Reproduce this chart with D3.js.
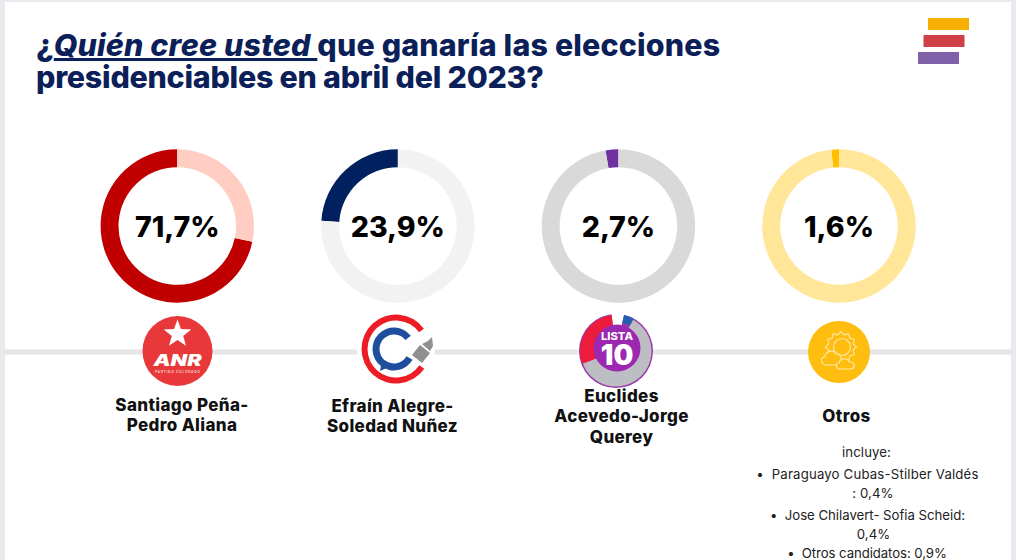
<!DOCTYPE html>
<html>
<head>
<meta charset="utf-8">
<script src="https://cdn.jsdelivr.net/npm/d3@7"></script>
<style>
  html, body { margin: 0; padding: 0; background: #fff; }
  svg { display: block; }
  text { font-family: Inter, "Noto Sans", sans-serif; }
</style>
</head>
<body>
<div id="chart"></div>
<script>
// datos
const candidatos = ['Santiago Peña-Pedro Aliana', 'Efraín Alegre-Soledad Nuñez', 'Euclides Acevedo-Jorge Querey', 'Otros'];
const valores = [71.7, 23.9, 2.7, 1.6];
const etiquetas = ['71,7%', '23,9%', '2,7%', '1,6%'];
const lineasNombre = [['Santiago Peña-', 'Pedro Aliana'], ['Efraín Alegre-', 'Soledad Nuñez'], ['Euclides', 'Acevedo-Jorge', 'Querey'], ['Otros']];
const coloresValor = ['#c00000', '#002060', '#7030a0', '#ffc000'];
const coloresResto = ['#ffcdc2', '#f2f2f2', '#d9d9d9', '#ffe699'];
const otrosLineas = ['incluye:', '•\u00a0\u00a0Paraguayo Cubas-Stilber Valdés', ': 0,4%', '•\u00a0\u00a0Jose Chilavert- Sofia Scheid:', '0,4%', '•\u00a0\u00a0Otros candidatos: 0,9%'];

const width = 1016, height = 560;
const svg = d3.select('#chart').append('svg').attr('width', width).attr('height', height);

// marco gris
svg.append('rect').attr('width', width).attr('height', height).attr('fill', '#e9e9ee');
svg.append('rect').attr('x', 5).attr('y', 2).attr('width', 1006).attr('height', height).attr('fill', '#fff');

// titulo
const navy = '#0b2058';
const title = svg.append('g').attr('fill', navy).attr('font-weight', 800).attr('font-size', 30.4);
const t1 = title.append('text').attr('x', 36).attr('y', 56).attr('letter-spacing', 0.18);
t1.append('tspan').text('¿');
t1.append('tspan').attr('font-style', 'italic').attr('text-decoration', 'underline').text('Quién cree usted ');
t1.append('tspan').text('que ganaría las elecciones');
title.append('text').attr('x', 36).attr('y', 88).attr('letter-spacing', -0.24).text('presidenciables en abril del 2023?');

// logo de la esquina
const barras = [[928, 18, '#f7b000'], [923.5, 35, '#cf3f46'], [918, 52, '#8060a8']];
svg.append('g').selectAll('rect').data(barras).enter().append('rect')
  .attr('x', d => d[0]).attr('y', d => d[1]).attr('width', 41).attr('height', 12).attr('fill', d => d[2]);

// linea horizontal
svg.append('rect').attr('x', 5).attr('y', 349.5).attr('width', 1006).attr('height', 5).attr('fill', '#e6e6e6');

// donas
const x = d3.scalePoint().domain(candidatos).range([177.3, 839]);
const pie = d3.pie().sort(null).startAngle(0).endAngle(-2 * Math.PI);
const arc = d3.arc().innerRadius(58.8).outerRadius(76.7);

candidatos.forEach((c, i) => {
  const g = svg.append('g').attr('transform', 'translate(' + x(c) + ',226)');
  g.selectAll('path').data(pie([valores[i], 100 - valores[i]])).enter().append('path')
    .attr('d', arc)
    .attr('fill', (d, j) => j === 0 ? coloresValor[i] : coloresResto[i]);
  g.append('text').attr('text-anchor', 'middle').attr('y', 11).attr('font-size', 28.5).attr('font-weight', 800)
    .attr('fill', '#000').text(etiquetas[i]);

  // nombres
  const lineas = lineasNombre[i];
  const y0 = [411, 412, 402, 422][i];
  svg.append('g').selectAll('text').data(lineas).enter().append('text')
    .attr('x', [182, 392.5, 621.5, 846.5][i])
    .attr('y', (d, j) => y0 + j * 20.3)
    .attr('text-anchor', 'middle').attr('font-size', 17).attr('font-weight', 800).attr('letter-spacing', 0.35).attr('fill', '#111')
    .text(d => d);
});

// logo ANR
const anr = svg.append('g').attr('transform', 'translate(177.5,351)');
anr.append('circle').attr('r', 35).attr('fill', '#e8383a');
anr.append('path').attr('fill', '#fff')
  .attr('d', d3.range(10).map(k => {
    const r = k % 2 ? 6 : 14.5, a = k * Math.PI / 5;
    return (k ? 'L' : 'M') + (r * Math.sin(a)).toFixed(1) + ',' + (-17 - r * Math.cos(a)).toFixed(1);
  }).join('') + 'Z');
anr.append('text').attr('text-anchor', 'middle').attr('y', 15).attr('font-size', 16).attr('font-weight', 900)
  .attr('font-style', 'italic').attr('textLength', 48).attr('lengthAdjust', 'spacingAndGlyphs').attr('fill', '#fff').text('ANR');
anr.append('text').attr('text-anchor', 'middle').attr('y', 22).attr('font-size', 3.5).attr('font-weight', 600)
  .attr('textLength', 45).attr('fill', '#fbd0d0').text('PARTIDO COLORADO');

// logo Alegre
const lc = svg.append('g').attr('transform', 'translate(396,349)');
lc.append('circle').attr('r', 39).attr('fill', '#fff');
lc.append('path').attr('fill', '#ee1c25')
  .attr('d', d3.arc().innerRadius(28.5).outerRadius(34.5).startAngle(2.18).endAngle(2 * Math.PI + 0.94)());
lc.append('path').attr('fill', '#1f4e9e')
  .attr('d', d3.arc().innerRadius(14.5).outerRadius(21.5).startAngle(2.1).endAngle(2 * Math.PI + 0.9)())
  .attr('transform', 'translate(-2,0)');
lc.append('path').attr('fill', '#1f4e9e').attr('d', 'M-14,11 L-16,22 L-5,17 Z');
lc.append('path').attr('fill', '#8f8f8f').attr('d', 'M16,6 L24,-4 L34,4 L26,14 Z');
lc.append('path').attr('fill', '#8f8f8f').attr('d', 'M26,-5 L32,-8 L36,-12 L37,-3 L34,2 Z');

// logo Lista 10
const l10 = svg.append('g').attr('transform', 'translate(616,351)');
l10.append('circle').attr('r', 37).attr('fill', '#9a37a8');
l10.append('path').attr('fill', '#fff')
  .attr('d', d3.arc().innerRadius(20).outerRadius(38).startAngle(-0.12).endAngle(0.22)());
l10.append('path').attr('fill', '#bdbdc4')
  .attr('d', d3.arc().innerRadius(20).outerRadius(35.5).startAngle(0.5).endAngle(4.35)());
l10.append('path').attr('fill', '#ee1c3c')
  .attr('d', d3.arc().innerRadius(20).outerRadius(36).startAngle(4.35).endAngle(6.16)());
l10.append('path').attr('fill', '#2460b0')
  .attr('d', d3.arc().innerRadius(29).outerRadius(37).startAngle(0.22).endAngle(0.5)());
l10.append('circle').attr('cx', 1).attr('cy', -3).attr('r', 23.5).attr('fill', '#9c27b0');
l10.append('text').attr('x', 1).attr('text-anchor', 'middle').attr('y', -11).attr('font-size', 10).attr('font-weight', 800)
  .attr('textLength', 32).attr('lengthAdjust', 'spacingAndGlyphs').attr('fill', '#fff').text('LISTA');
l10.append('text').attr('x', 1).attr('text-anchor', 'middle').attr('y', 14).attr('font-size', 28).attr('font-weight', 900)
  .attr('fill', '#fff').text('10');

// logo Otros
const ot = svg.append('g').attr('transform', 'translate(839,352)');
ot.append('circle').attr('r', 31).attr('fill', '#ffbe0f');
const sil = ot.append('g').attr('fill', 'none').attr('stroke', '#ffe9a8').attr('stroke-width', 1.1).attr('stroke-linejoin', 'round');
sil.append('path').attr('transform', 'translate(2,-5)')
  .attr('d', d3.range(24).map(k => {
    const r = k % 2 ? 12.5 : 15.5, a = k * Math.PI / 12;
    return (k ? 'L' : 'M') + (r * Math.sin(a)).toFixed(1) + ',' + (-r * Math.cos(a)).toFixed(1);
  }).join('') + 'Z');
sil.append('circle').attr('cx', 3).attr('cy', -5).attr('r', 8.5).attr('fill', '#ffbe0f');
sil.append('path').attr('fill', '#ffbe0f').attr('d', 'M-14,13 C-19,11 -18,5 -14,5 C-14,-1 -5,-3 -3,2 C1,1 4,6 1,9 C1,12 -1,13 -3,13 Z');
sil.append('path').attr('fill', '#ffbe0f').attr('d', 'M0,17 C-4,16 -3,11 0,11 C1,6 9,5 10,10 C14,9 17,13 14,16 Q13,17 11,17 Z');

// detalle de otros
const ys = [457, 479, 498, 519.5, 538.5, 558];
const xs = [866.5, 867.5, 873, 867.5, 873.5, 867];
const espacios = [0.1, 0.18, 0.1, -0.02, 0.1, -0.08];
svg.append('g').selectAll('text').data(otrosLineas).enter().append('text')
  .attr('x', (d, j) => xs[j]).attr('y', (d, j) => ys[j])
  .attr('text-anchor', 'middle').attr('font-size', 13.2).attr('letter-spacing', (d, j) => espacios[j]).attr('fill', '#222')
  .text(d => d);
</script>
</body>
</html>
